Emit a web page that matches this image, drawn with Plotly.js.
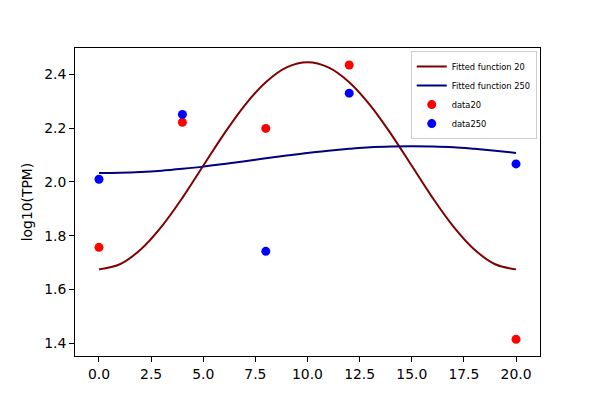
<!DOCTYPE html>
<html>
<head>
<meta charset="utf-8">
<script src="https://cdn.plot.ly/plotly-3.0.1.min.js"></script>
<style>html,body{margin:0;padding:0;background:#fff;}#chart{width:600px;height:400px;}</style>
</head>
<body>
<div id="chart"></div>
<script>
// Sample times
const dataX = [0, 4, 8, 12, 20];
const data20 = [1.757, 2.222, 2.199, 2.435, 1.415];
const data250 = [2.010, 2.251, 1.742, 2.330, 2.067];

// Fitted curves at integer x
const fitX = [0,1,2,3,4,5,6,7,8,9,10,11,12,13,14,15,16,17,18,19,20];
const fit20 = [1.675,1.694,1.749,1.834,1.941,2.060,2.179,2.286,2.371,2.426,2.445,
               2.426,2.371,2.286,2.179,2.060,1.941,1.834,1.749,1.694,1.675];
const fit250 = [2.033,2.034,2.037,2.042,2.049,2.057,2.067,2.077,2.088,2.098,2.108,
                2.116,2.123,2.129,2.132,2.133,2.132,2.129,2.123,2.116,2.108];

const xTicks = [0, 2.5, 5, 7.5, 10, 12.5, 15, 17.5, 20];
const yTicks = [1.4, 1.6, 1.8, 2.0, 2.2, 2.4];

const font = 'DejaVu Sans, sans-serif';
const traces = [
  {x: fitX, y: fit20, mode: 'lines', name: 'Fitted function 20', line: {color: '#800000', width: 2, shape: 'spline'}},
  {x: fitX, y: fit250, mode: 'lines', name: 'Fitted function 250', line: {color: '#000080', width: 2, shape: 'spline'}},
  {x: dataX, y: data20, mode: 'markers', name: 'data20', marker: {color: '#ff0000', size: 9}},
  {x: dataX, y: data250, mode: 'markers', name: 'data250', marker: {color: '#0000ff', size: 9}}
];
const axisCommon = {
  showline: true, mirror: true, linecolor: '#000', linewidth: 1,
  ticks: 'outside', ticklen: 5, tickwidth: 1, tickcolor: '#000',
  showgrid: false, zeroline: false, tickfont: {family: font, size: 13.9, color: '#000'}
};
const layout = {
  width: 600, height: 400,
  margin: {l: 75, r: 60, t: 48, b: 44},
  paper_bgcolor: '#fff', plot_bgcolor: '#fff',
  font: {family: font, color: '#000'},
  showlegend: true,
  legend: {x: 0.993, y: 0.99, xanchor: 'right', yanchor: 'top', bgcolor: '#fff',
           bordercolor: '#cccccc', borderwidth: 1, font: {family: font, size: 8.3, color: '#000'},
           tracegroupgap: 0, itemwidth: 30},
  xaxis: Object.assign({}, axisCommon, {range: [-1.15, 21.15], tickvals: xTicks, ticktext: xTicks.map(v => v.toFixed(1))}),
  yaxis: Object.assign({}, axisCommon, {range: [1.353, 2.498], tickvals: yTicks, ticktext: yTicks.map(v => v.toFixed(1)),
          title: {text: 'log10(TPM)', font: {family: font, size: 13.9, color: '#000'}, standoff: 8}})
};
Plotly.newPlot('chart', traces, layout, {displayModeBar: false, staticPlot: true});
</script>
</body>
</html>
